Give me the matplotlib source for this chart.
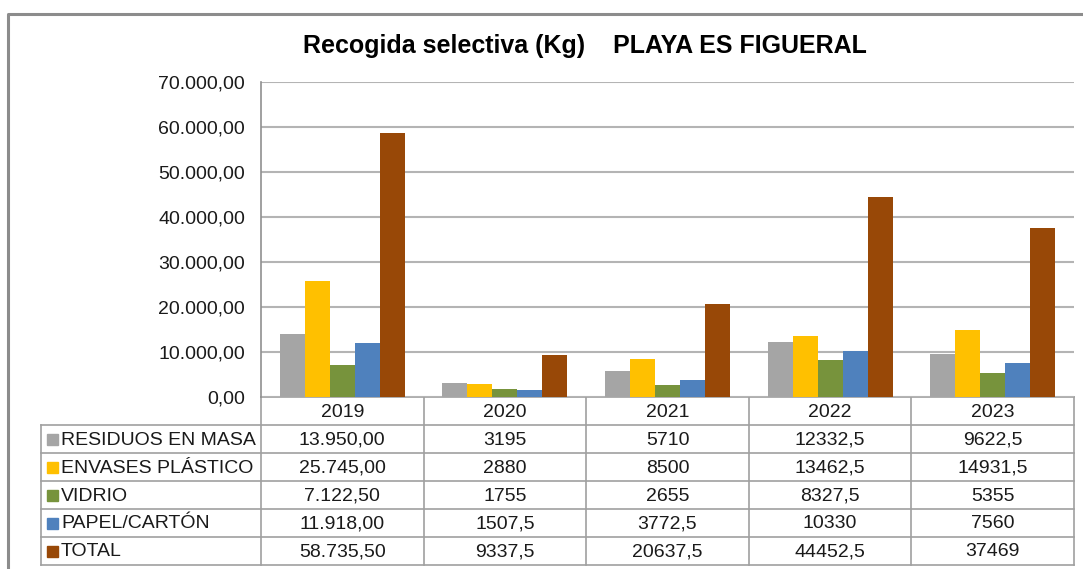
import matplotlib.pyplot as plt
import matplotlib.transforms as mtransforms
from matplotlib.patches import Rectangle
from matplotlib.ticker import FuncFormatter

plt.rcParams['font.family'] = ['Liberation Sans', 'DejaVu Sans']

years = ['2019', '2020', '2021', '2022', '2023']
series = ['RESIDUOS EN MASA', 'ENVASES PLÁSTICO', 'VIDRIO', 'PAPEL/CARTÓN', 'TOTAL']
residuos = [13950.0, 3195, 5710, 12332.5, 9622.5]
envases = [25745.0, 2880, 8500, 13462.5, 14931.5]
vidrio = [7122.5, 1755, 2655, 8327.5, 5355]
papel = [11918.0, 1507.5, 3772.5, 10330, 7560]
total = [58735.5, 9337.5, 20637.5, 44452.5, 37469]
# table text as shown in the sheet (first year formatted, rest raw)
residuos_txt = ['13.950,00', '3195', '5710', '12332,5', '9622,5']
envases_txt = ['25.745,00', '2880', '8500', '13462,5', '14931,5']
vidrio_txt = ['7.122,50', '1755', '2655', '8327,5', '5355']
papel_txt = ['11.918,00', '1507,5', '3772,5', '10330', '7560']
total_txt = ['58.735,50', '9337,5', '20637,5', '44452,5', '37469']

values = [residuos, envases, vidrio, papel, total]
texts = [residuos_txt, envases_txt, vidrio_txt, papel_txt, total_txt]
colors = ['#A5A5A5', '#FFC000', '#77933C', '#4F81BD', '#984807']

W, H = 1083, 569
fig = plt.figure(figsize=(W / 100, H / 100), dpi=100)

# overlay in pixel units for frame and data table
ov = fig.add_axes([0, 0, 1, 1])
ov.set_xlim(0, W)
ov.set_ylim(H, 0)
ov.axis('off')

left, right, top, bottom = 261, 1074, 82, 397
ax = fig.add_axes([left / W, (H - bottom) / H, (right - left) / W, (bottom - top) / H])
ov.set_zorder(ax.get_zorder() - 1)

n = len(series)
bw = 1 / 6.5
for i, (vals, c) in enumerate(zip(values, colors)):
    xs = [k + (i - (n - 1) / 2) * bw for k in range(len(years))]
    ax.bar(xs, vals, width=bw, color=c, zorder=3)

ax.set_xlim(-0.5, len(years) - 0.5)
ax.set_ylim(0, 70000)
ax.set_yticks(range(0, 70001, 10000))
ax.yaxis.set_major_formatter(FuncFormatter(
    lambda v, p: '{:,.2f}'.format(v).replace(',', 'X').replace('.', ',').replace('X', '.')))
ax.tick_params(axis='y', length=0, pad=11.5, labelsize=14, colors='#1a1a1a')
ax.set_xticks([])
ax.grid(axis='y', color='#B4B4B4', linewidth=1.5, zorder=0)
for s in ['top', 'right', 'bottom']:
    ax.spines[s].set_visible(False)
ax.spines['left'].set_color('#909090')
ax.spines['left'].set_linewidth(1.2)

fig.text(585 / W, (H - 46) / H, 'Recogida selectiva (Kg)    PLAYA ES FIGUERAL',
         ha='center', va='center', fontsize=18, fontweight='bold')

# outer chart frame
ov.plot([8, 8, W], [H, 14, 14], color='#8C8C8C', linewidth=2.2, solid_capstyle='butt')

# data table: columns follow the category positions of the chart
bt = mtransforms.blended_transform_factory(ax.transData, ov.transData)
lc = '#A0A0A0'
row_h = 28
rows_top = bottom + row_h
table_bottom = rows_top + row_h * n
ov.plot([left, right], [bottom, bottom], color=lc, lw=1.2)
for k in range(len(years) + 1):
    ov.plot([k - 0.5, k - 0.5], [bottom, table_bottom], color=lc, lw=1.2, transform=bt)
for r in range(n + 1):
    y = rows_top + r * row_h
    ov.plot([41, right], [y, y], color=lc, lw=1.2)
ov.plot([41, 41], [rows_top, table_bottom], color=lc, lw=1.2)

for k, yr in enumerate(years):
    ov.text(k, bottom + row_h / 2 + 1, yr, transform=bt, ha='center', va='center',
            fontsize=14, color='#1a1a1a')

for r, (name, c, txt) in enumerate(zip(series, colors, texts)):
    yc = rows_top + r * row_h + row_h / 2 + 1
    ov.add_patch(Rectangle((47, yc - 6), 11, 11, color=c))
    ov.text(61, yc, name, ha='left', va='center', fontsize=14, color='#1a1a1a')
    for k, t in enumerate(txt):
        ov.text(k, yc, t, transform=bt, ha='center', va='center',
                fontsize=14, color='#1a1a1a')

fig.savefig('out.png', dpi=100)
